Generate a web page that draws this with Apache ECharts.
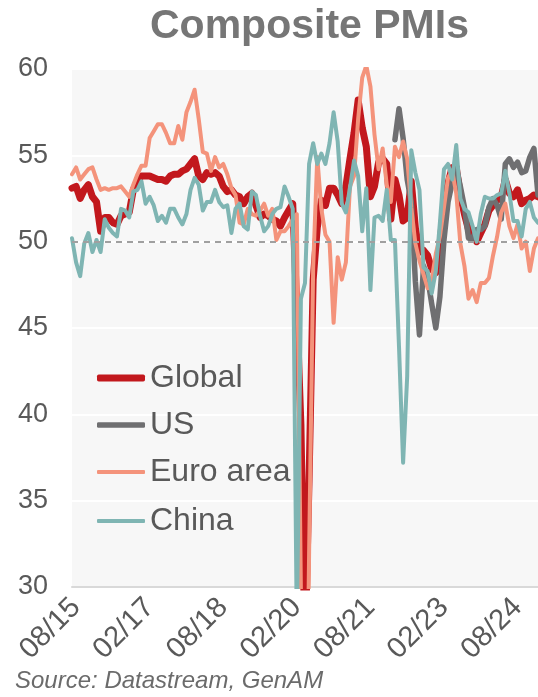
<!DOCTYPE html>
<html>
<head>
<meta charset="utf-8">
<script src="https://cdn.jsdelivr.net/npm/echarts@6/dist/echarts.min.js"></script>
<style>
html,body{margin:0;padding:0;background:#ffffff;}
#chart{width:538px;height:697px;}
</style>
</head>
<body>
<div id="chart"></div>
<script>
// Months from Jul 2015 to Jan 2025
var months = [
  '07/15','08/15','09/15','10/15','11/15','12/15',
  '01/16','02/16','03/16','04/16','05/16','06/16','07/16','08/16','09/16','10/16','11/16','12/16',
  '01/17','02/17','03/17','04/17','05/17','06/17','07/17','08/17','09/17','10/17','11/17','12/17',
  '01/18','02/18','03/18','04/18','05/18','06/18','07/18','08/18','09/18','10/18','11/18','12/18',
  '01/19','02/19','03/19','04/19','05/19','06/19','07/19','08/19','09/19','10/19','11/19','12/19',
  '01/20','02/20','03/20','04/20','05/20','06/20','07/20','08/20','09/20','10/20','11/20','12/20',
  '01/21','02/21','03/21','04/21','05/21','06/21','07/21','08/21','09/21','10/21','11/21','12/21',
  '01/22','02/22','03/22','04/22','05/22','06/22','07/22','08/22','09/22','10/22','11/22','12/22',
  '01/23','02/23','03/23','04/23','05/23','06/23','07/23','08/23','09/23','10/23','11/23','12/23',
  '01/24','02/24','03/24','04/24','05/24','06/24','07/24','08/24','09/24','10/24','11/24','12/24',
  '01/25'
];
var tickLabels = ['08/15','02/17','08/18','02/20','08/21','02/23','08/24'];

var globalPMI = [
  53.1,53.2,52.5,53.0,53.3,52.6,
  52.3,50.6,51.4,51.4,51.1,51.0,51.5,51.6,51.7,53.0,53.5,53.8,
  53.8,53.8,53.7,53.6,53.6,53.5,53.8,53.9,53.9,54.1,54.2,54.5,
  54.8,53.8,53.6,54.0,53.9,54.0,53.8,53.2,52.9,53.0,52.7,52.6,
  52.2,52.6,52.8,52.1,51.4,51.6,51.5,51.3,51.2,50.9,51.4,51.8,
  52.2,46.1,39.4,26.2,36.3,47.8,50.8,52.4,52.1,53.1,53.1,52.7,
  52.2,53.2,54.8,56.3,58.2,56.6,55.5,52.6,53.2,54.6,54.8,54.5,
  51.3,53.6,52.7,51.2,51.4,53.5,50.8,49.4,49.5,49.2,48.4,48.2,
  49.8,52.2,53.4,54.3,54.3,52.7,51.6,50.7,50.4,50.0,50.5,51.0,
  51.8,52.1,52.4,52.6,53.6,52.8,52.6,53.0,52.2,52.4,52.5,52.7,
  52.6
];
var usPMI = [
  null,null,null,null,null,null,
  null,null,null,null,null,null,null,null,null,null,null,null,
  null,null,null,null,null,null,null,null,null,null,null,null,
  null,null,null,null,null,null,null,null,null,null,null,null,
  null,null,null,null,null,null,null,null,null,null,null,null,
  null,null,null,null,null,null,null,null,null,null,null,null,
  null,null,null,null,null,null,null,null,null,null,null,null,
  null,55.9,57.7,56.0,53.6,52.3,47.7,44.6,48.6,47.9,46.4,45.0,
  46.8,50.1,52.3,53.4,54.3,53.2,52.0,50.2,50.2,50.7,50.7,50.9,
  52.0,52.5,52.1,51.3,54.5,54.8,54.3,54.6,54.0,54.1,54.9,55.4,
  52.7
];
var euroPMI = [
  53.9,54.3,53.6,53.9,54.2,54.3,
  53.6,53.0,53.1,53.0,53.1,53.1,53.2,52.9,52.6,53.3,53.9,54.4,
  54.4,56.0,56.4,56.8,56.8,56.3,55.7,55.7,56.7,55.9,57.5,58.1,
  58.8,57.1,55.2,55.1,54.1,54.9,54.3,54.5,53.9,53.1,52.7,51.1,
  51.0,51.9,51.6,51.5,51.8,52.2,51.5,51.9,50.1,50.6,50.6,50.9,
  51.3,51.6,29.7,13.6,31.9,48.5,54.9,51.9,50.4,50.0,45.3,49.1,
  47.8,48.8,53.2,53.8,57.1,59.5,60.2,59.0,56.2,54.2,55.4,53.3,
  52.3,55.5,54.9,55.8,54.8,52.0,49.9,48.9,48.1,47.3,47.8,49.3,
  50.3,52.0,53.7,54.1,52.8,49.9,48.6,46.7,47.2,46.5,47.6,47.6,
  47.9,49.2,50.3,51.7,52.2,50.9,50.2,51.0,49.6,50.0,48.3,49.6,
  50.2
];
var chinaPMI = [
  50.2,48.8,48.0,49.9,50.5,49.4,
  50.1,49.4,51.3,50.8,50.5,50.3,51.9,51.8,51.4,52.9,53.0,53.5,
  52.2,52.6,52.1,51.2,51.5,51.1,51.9,51.9,51.4,51.0,51.6,53.0,
  53.7,53.3,51.8,52.3,52.3,53.0,52.3,52.0,52.1,50.5,51.9,52.2,
  50.9,50.7,52.9,52.7,51.5,50.6,50.9,51.6,51.9,52.0,53.2,52.6,
  51.9,27.5,46.7,47.6,54.5,55.7,54.5,55.1,54.5,55.7,57.5,55.8,
  52.2,51.7,53.1,54.7,53.8,50.6,53.1,47.2,51.4,51.5,51.2,53.0,
  50.1,50.1,43.9,37.2,42.2,55.3,54.0,53.0,48.5,48.3,47.0,48.3,
  51.1,54.2,54.5,53.6,55.6,52.5,51.9,51.7,50.9,50.0,51.6,52.6,
  52.5,52.5,52.7,52.8,54.1,52.8,51.2,51.2,50.3,51.9,52.3,51.4,
  51.1
];

var seriesNames = ['Global','US','Euro area','China'];
var seriesColors = ['#c2181d','#6f6f71','#f4937b','#7fb5b3'];
var seriesWidths = [7,5.5,4,4];
var seriesValues = [globalPMI, usPMI, euroPMI, chinaPMI];
var legendTops = [362,409,456,505];

var FONT = 'Liberation Sans, Arial, sans-serif';
var chart = echarts.init(document.getElementById('chart'), null, {renderer:'canvas'});

var series = seriesNames.map(function(n, k){
  return {
    name: n,
    type: 'line',
    data: seriesValues[k],
    symbol: 'none',
    showSymbol: false,
    clip: true,
    connectNulls: false,
    lineStyle: {color: seriesColors[k], width: seriesWidths[k], join: 'round', cap: 'round'},
    itemStyle: {color: seriesColors[k]},
    emphasis: {disabled: true},
    z: 3
  };
});
series.unshift({
  name: 'ref50',
  type: 'line',
  data: [],
  symbol: 'none',
  z: 1,
  markLine: {
    silent: true,
    symbol: ['none','none'],
    label: {show: false},
    lineStyle: {color: '#a0a0a0', type: [6,5], width: 2},
    data: [{yAxis: 50}]
  }
});

var legends = seriesNames.map(function(n, k){
  return {
    data: [{name: n, icon: 'roundRect'}],
    orient: 'vertical',
    left: 97,
    top: legendTops[k],
    padding: 0,
    itemWidth: 48,
    itemHeight: seriesWidths[k],
    selectedMode: false,
    itemStyle: {color: seriesColors[k], borderWidth: 0},
    lineStyle: {width: 0},
    textStyle: {fontFamily: FONT, fontSize: 32, lineHeight: 32, color: '#595959'}
  };
});

chart.setOption({
  animation: false,
  backgroundColor: '#ffffff',
  title: [
    {text: 'Composite PMIs', left: 145, top: 1,
     textStyle: {fontFamily: FONT, fontSize: 41, fontWeight: 'bold', color: '#767676'}},
    {text: 'Source: Datastream, GenAM', left: 10, top: 664,
     textStyle: {fontFamily: FONT, fontSize: 24, fontStyle: 'italic', fontWeight: 'normal', color: '#6b6b6b'}}
  ],
  legend: legends,
  grid: {left: 72, right: 0, top: 69, bottom: 110, show: true, backgroundColor: '#f7f7f7', borderWidth: 0},
  xAxis: {
    type: 'category',
    data: months,
    boundaryGap: false,
    axisLine: {show: true, lineStyle: {color: '#d9d9d9', width: 2}},
    axisTick: {show: false},
    splitLine: {show: false},
    axisLabel: {
      rotate: 45,
      margin: 16,
      fontFamily: FONT,
      fontSize: 29,
      color: '#595959',
      interval: function(idx, val){ return tickLabels.indexOf(val) >= 0; }
    }
  },
  yAxis: {
    type: 'value',
    min: 30,
    max: 60,
    interval: 5,
    axisLine: {show: false},
    axisTick: {show: false},
    splitLine: {show: true, lineStyle: {color: '#ffffff', width: 2}},
    axisLabel: {fontFamily: FONT, fontSize: 27, color: '#595959', margin: 24}
  },
  series: series
});
</script>
</body>
</html>
